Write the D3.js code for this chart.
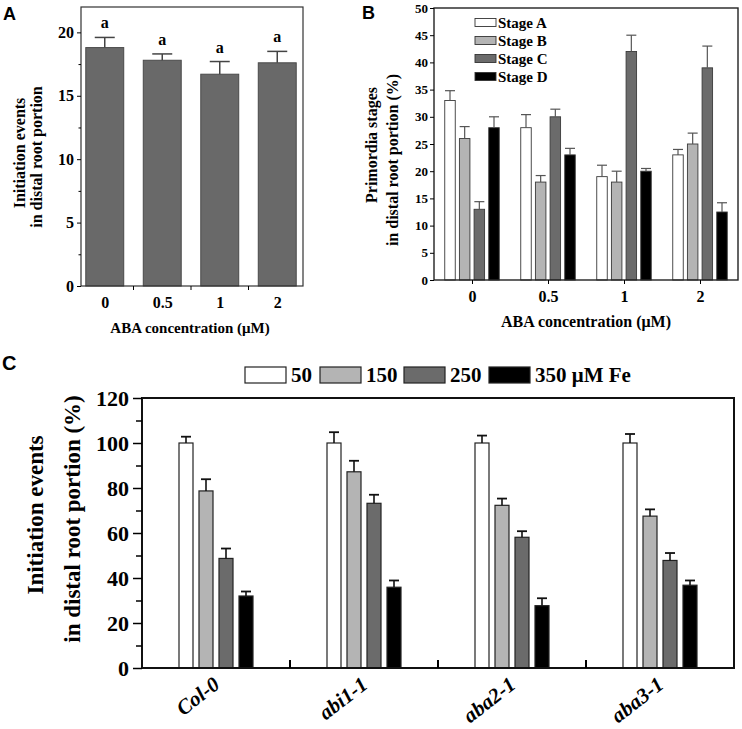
<!DOCTYPE html>
<html><head><meta charset="utf-8">
<script src="https://cdn.jsdelivr.net/npm/d3@7"></script>
<style>
html,body{margin:0;padding:0;background:#fff;}
svg{display:block;}
</style></head>
<body>
<script>
// ---------- Panel A data ----------
const aCategories = ["0", "0.5", "1", "2"];
const aMeans = [18.8, 17.8, 16.7, 17.6];
const aErrors = [0.8, 0.5, 1.0, 0.9];
const aLetters = ["a", "a", "a", "a"];
const aYTicks = [0, 5, 10, 15, 20];
const aYMinor = [2.5, 7.5, 12.5, 17.5];

// ---------- Panel B data ----------
const bCategories = ["0", "0.5", "1", "2"];
const bSeries = ["Stage A", "Stage B", "Stage C", "Stage D"];
const bStageA = [33, 28, 19, 23];
const bStageAErr = [1.8, 2.4, 2.1, 1.0];
const bStageB = [26, 18, 18, 25];
const bStageBErr = [2.2, 1.2, 2.0, 2.0];
const bStageC = [13, 30, 42, 39];
const bStageCErr = [1.4, 1.4, 3.0, 4.0];
const bStageD = [28, 23, 20, 12.5];
const bStageDErr = [2.0, 1.2, 0.5, 1.7];
const bYTicks = [0, 5, 10, 15, 20, 25, 30, 35, 40, 45, 50];

// ---------- Panel C data ----------
const cGenotypes = ["Col-0", "abi1-1", "aba2-1", "aba3-1"];
const cSeries = ["50", "150", "250", "350 μM Fe"];
const cFe50 = [100, 100, 100, 100];
const cFe50Err = [2.8, 4.8, 3.3, 4.0];
const cFe150 = [78.7, 87.2, 72.3, 67.5];
const cFe150Err = [5.2, 4.9, 3.0, 3.0];
const cFe250 = [48.7, 73.2, 58.1, 47.8];
const cFe250Err = [4.4, 3.8, 2.7, 3.3];
const cFe350 = [32.0, 35.9, 27.7, 36.8];
const cFe350Err = [2.0, 3.0, 3.3, 2.1];
const cYTicks = [0, 20, 40, 60, 80, 100, 120];
const cYMinor = [10, 30, 50, 70, 90, 110];

const fills = ["#ffffff", "#b4b4b4", "#6b6b6b", "#000000"];
const SERIF = "'Liberation Serif','Times New Roman',serif";
const SANS = "'Liberation Sans',Arial,sans-serif";

const svg = d3.select("body").append("svg").attr("width", 742).attr("height", 729)
  .style("font-family", SERIF);

function styleAxis(g, size) {
  g.selectAll("text").attr("font-family", SERIF).attr("font-weight", "bold")
    .attr("font-size", size).attr("fill", "#000");
  g.selectAll("line,path").attr("stroke", "#000");
}

// ================= Panel A =================
{
  const L = 81, R = 303, T = 7, B = 286;
  const x = d3.scalePoint().domain(aCategories).range([76, 306]).padding(0.5);
  const step = x.step();
  const bw = step * 0.66;
  const y = d3.scaleLinear().domain([0, 22]).range([B, T]);
  const g = svg.append("g");

  g.selectAll("rect.bar").data(aCategories).join("rect")
    .attr("x", d => x(d) - bw / 2).attr("width", bw)
    .attr("y", (d, i) => y(aMeans[i])).attr("height", (d, i) => B - y(aMeans[i]))
    .attr("fill", "#696969").attr("stroke", "#4a4a4a").attr("stroke-width", 1);

  aCategories.forEach((d, i) => {
    const cx = x(d), top = y(aMeans[i] + aErrors[i]);
    g.append("line").attr("x1", cx).attr("x2", cx).attr("y1", y(aMeans[i])).attr("y2", top)
      .attr("stroke", "#444").attr("stroke-width", 1.5);
    g.append("line").attr("x1", cx - 10).attr("x2", cx + 10).attr("y1", top).attr("y2", top)
      .attr("stroke", "#444").attr("stroke-width", 1.5);
    g.append("text").attr("x", cx).attr("y", top - 9).attr("text-anchor", "middle")
      .attr("font-weight", "bold").attr("font-size", 16).text(aLetters[i]);
  });

  g.append("rect").attr("x", L).attr("y", T).attr("width", R - L).attr("height", B - T)
    .attr("fill", "none").attr("stroke", "#333").attr("stroke-width", 1.2);

  const ya = g.append("g").attr("transform", `translate(${L},0)`)
    .call(d3.axisLeft(y).tickValues(aYTicks).tickSize(4).tickPadding(3).tickFormat(d3.format("d")));
  ya.select(".domain").remove();
  styleAxis(ya, 16);
  g.append("g").attr("transform", `translate(${L},0)`)
    .call(d3.axisLeft(y).tickValues(aYMinor).tickSize(2.5).tickFormat(""))
    .call(s => { s.select(".domain").remove(); s.selectAll("line").attr("stroke", "#000"); });

  const xa = g.append("g").attr("transform", `translate(0,${B})`)
    .call(d3.axisBottom(x).tickSize(0).tickPadding(11));
  xa.select(".domain").remove();
  styleAxis(xa, 16);
  const bnd = aCategories.slice(1).map((d, i) => (x(aCategories[i]) + x(d)) / 2);
  g.selectAll("line.bt").data(bnd).join("line")
    .attr("x1", d => d).attr("x2", d => d).attr("y1", B).attr("y2", B + 4).attr("stroke", "#000");

  g.append("text").attr("x", 190).attr("y", 333).attr("text-anchor", "middle")
    .attr("font-weight", "bold").attr("font-size", 15).text("ABA concentration (μM)");

  g.append("text").attr("transform", "translate(25,153) rotate(-90)").attr("text-anchor", "middle")
    .attr("font-weight", "bold").attr("font-size", 16).text("Initiation events");
  g.append("text").attr("transform", "translate(42,157) rotate(-90)").attr("text-anchor", "middle")
    .attr("font-weight", "bold").attr("font-size", 16).text("in distal root portion");

  svg.append("text").attr("x", 3).attr("y", 20).attr("font-family", SANS).attr("font-weight", "bold")
    .attr("font-size", 18).text("A");
}

// ================= Panel B =================
{
  const L = 434, R = 738, T = 8, B = 280;
  const x = d3.scalePoint().domain(bCategories).range([L, R]).padding(0.5);
  const xi = d3.scalePoint().domain(bSeries).range([-22, 22]);
  const bw = 10.5;
  const y = d3.scaleLinear().domain([0, 50]).range([B, T]);
  const g = svg.append("g");
  const vals = [bStageA, bStageB, bStageC, bStageD];
  const errs = [bStageAErr, bStageBErr, bStageCErr, bStageDErr];

  bSeries.forEach((s, si) => {
    g.selectAll(null).data(bCategories).join("rect")
      .attr("x", d => x(d) + xi(s) - bw / 2).attr("width", bw)
      .attr("y", (d, i) => y(vals[si][i])).attr("height", (d, i) => B - y(vals[si][i]))
      .attr("fill", fills[si]).attr("stroke", "#3a3a3a").attr("stroke-width", 0.9);
    bCategories.forEach((d, i) => {
      const cx = x(d) + xi(s), top = y(vals[si][i] + errs[si][i]);
      g.append("line").attr("x1", cx).attr("x2", cx).attr("y1", y(vals[si][i])).attr("y2", top)
        .attr("stroke", "#555").attr("stroke-width", 1.2);
      g.append("line").attr("x1", cx - 5).attr("x2", cx + 5).attr("y1", top).attr("y2", top)
        .attr("stroke", "#555").attr("stroke-width", 1.2);
    });
  });

  g.append("rect").attr("x", L).attr("y", T).attr("width", R - L).attr("height", B - T)
    .attr("fill", "none").attr("stroke", "#222").attr("stroke-width", 1.4);

  const ya = g.append("g").attr("transform", `translate(${L},0)`)
    .call(d3.axisLeft(y).tickValues(bYTicks).tickSize(4).tickPadding(2).tickFormat(d3.format("d")));
  ya.select(".domain").remove();
  styleAxis(ya, 13);

  const xa = g.append("g").attr("transform", `translate(0,${B})`)
    .call(d3.axisBottom(x).tickSize(4).tickPadding(7));
  xa.select(".domain").remove();
  styleAxis(xa, 16);

  g.append("text").attr("x", 586).attr("y", 327).attr("text-anchor", "middle")
    .attr("font-weight", "bold").attr("font-size", 16).text("ABA concentration (μM)");

  g.append("text").attr("transform", "translate(377,145) rotate(-90)").attr("text-anchor", "middle")
    .attr("font-weight", "bold").attr("font-size", 16).text("Primordia stages");
  g.append("text").attr("transform", "translate(398,160) rotate(-90)").attr("text-anchor", "middle")
    .attr("font-weight", "bold").attr("font-size", 16).text("in distal root portion (%)");

  const leg = g.append("g");
  bSeries.forEach((s, si) => {
    const cy = 22.5 + si * 18;
    leg.append("rect").attr("x", 475).attr("y", cy - 4).attr("width", 21).attr("height", 8)
      .attr("fill", fills[si]).attr("stroke", "#333").attr("stroke-width", 0.9);
    leg.append("text").attr("x", 498).attr("y", cy + 5).attr("font-weight", "bold")
      .attr("font-size", 15).text(s);
  });

  svg.append("text").attr("x", 362).attr("y", 19).attr("font-family", SANS).attr("font-weight", "bold")
    .attr("font-size", 18).text("B");
}

// ================= Panel C =================
{
  const L = 142, R = 734, T = 398, B = 668;
  const x = d3.scalePoint().domain(cGenotypes).range([L, R]).padding(0.5);
  const xi = d3.scalePoint().domain(cSeries).range([-30, 30]);
  const bw = 14;
  const y = d3.scaleLinear().domain([0, 120]).range([B, T]);
  const g = svg.append("g");
  const vals = [cFe50, cFe150, cFe250, cFe350];
  const errs = [cFe50Err, cFe150Err, cFe250Err, cFe350Err];

  cSeries.forEach((s, si) => {
    g.selectAll(null).data(cGenotypes).join("rect")
      .attr("x", d => x(d) + xi(s) - bw / 2).attr("width", bw)
      .attr("y", (d, i) => y(vals[si][i])).attr("height", (d, i) => B - y(vals[si][i]))
      .attr("fill", fills[si]).attr("stroke", "#222").attr("stroke-width", 1.2);
    cGenotypes.forEach((d, i) => {
      const cx = x(d) + xi(s), top = y(vals[si][i] + errs[si][i]);
      g.append("line").attr("x1", cx).attr("x2", cx).attr("y1", y(vals[si][i])).attr("y2", top)
        .attr("stroke", "#111").attr("stroke-width", 1.6);
      g.append("line").attr("x1", cx - 5).attr("x2", cx + 5).attr("y1", top).attr("y2", top)
        .attr("stroke", "#111").attr("stroke-width", 1.8);
    });
  });

  g.append("rect").attr("x", L).attr("y", T).attr("width", R - L).attr("height", B - T)
    .attr("fill", "none").attr("stroke", "#111").attr("stroke-width", 2);

  const ya = g.append("g").attr("transform", `translate(${L},0)`)
    .call(d3.axisLeft(y).tickValues(cYTicks).tickSize(9).tickPadding(4).tickFormat(d3.format("d")));
  ya.select(".domain").remove();
  styleAxis(ya, 22);
  ya.selectAll("line").attr("stroke-width", 1.5);
  g.append("g").attr("transform", `translate(${L},0)`)
    .call(d3.axisLeft(y).tickValues(cYMinor).tickSize(6).tickFormat(""))
    .call(s => { s.select(".domain").remove(); s.selectAll("line").attr("stroke", "#000").attr("stroke-width", 1.5); });

  const bnd = cGenotypes.slice(1).map((d, i) => (x(cGenotypes[i]) + x(d)) / 2);
  g.selectAll("line.sep").data(bnd).join("line")
    .attr("x1", d => d).attr("x2", d => d).attr("y1", B).attr("y2", B - 8)
    .attr("stroke", "#000").attr("stroke-width", 2);

  g.selectAll("text.gl").data(cGenotypes).join("text")
    .attr("transform", d => `translate(${x(d) + 5},${B + 19}) rotate(-38)`)
    .attr("text-anchor", "end").attr("font-style", "italic").attr("font-weight", "bold")
    .attr("font-size", 21).text(d => d);

  g.append("text").attr("transform", "translate(43,515) rotate(-90)").attr("text-anchor", "middle")
    .attr("font-weight", "bold").attr("font-size", 23).text("Initiation events");
  g.append("text").attr("transform", "translate(80,519) rotate(-90)").attr("text-anchor", "middle")
    .attr("font-weight", "bold").attr("font-size", 23).text("in distal root portion (%)");

  const boxX = [245, 320, 404, 489];
  cSeries.forEach((s, si) => {
    g.append("rect").attr("x", boxX[si]).attr("y", 367).attr("width", 41).attr("height", 16)
      .attr("fill", fills[si]).attr("stroke", "#222").attr("stroke-width", 1.2);
    g.append("text").attr("x", boxX[si] + 46).attr("y", 382).attr("font-weight", "bold")
      .attr("font-size", 21).text(s);
  });

  svg.append("text").attr("x", 2).attr("y", 370).attr("font-family", SANS).attr("font-weight", "bold")
    .attr("font-size", 20).text("C");
}
</script>
</body></html>
